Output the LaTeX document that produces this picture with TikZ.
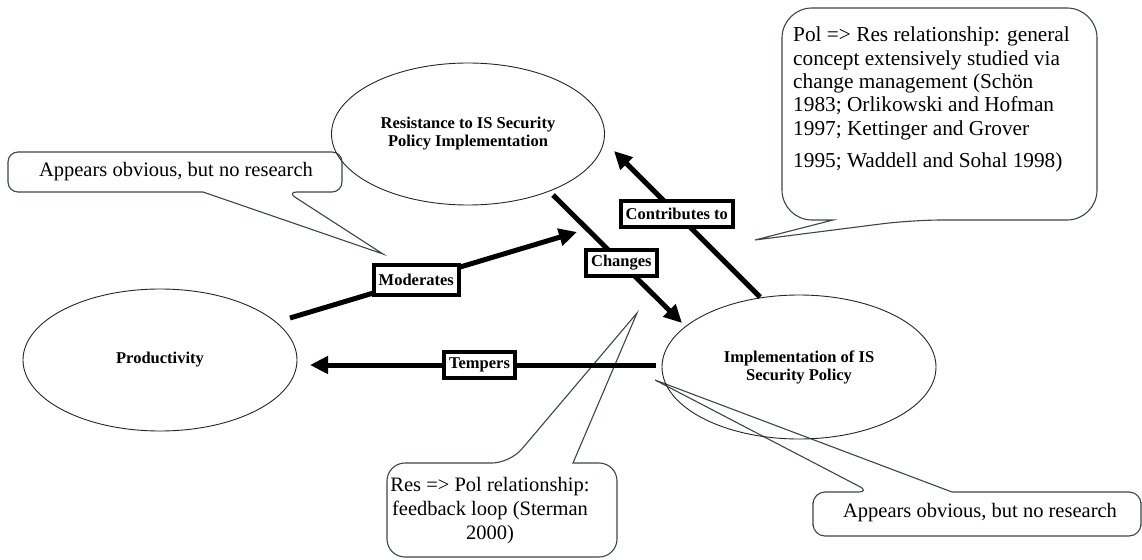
\documentclass[tikz,border=0pt]{standalone}
\usepackage{fontspec}
\setmainfont{Liberation Serif}
\usetikzlibrary{shapes.geometric,arrows.meta}
\definecolor{calloutgrey}{HTML}{3C4646}

\begin{document}
\begin{tikzpicture}[x=1pt,y=-1pt,
  concept/.style={ellipse,draw=black!85,line width=0.9pt,inner sep=0pt,align=center,
    font=\fontsize{16.5}{18}\selectfont\bfseries},
  link/.style={line width=5pt,-{Triangle[length=18pt,width=17pt]}},
  linklabel/.style={draw=black,fill=white,line width=4pt,inner xsep=5pt,inner ysep=2pt,
    minimum height=26pt,font=\fontsize{16.5}{18}\selectfont\bfseries},
  callout/.style={draw=calloutgrey,line width=1.1pt},
  note/.style={font=\fontsize{20.5}{23.5}\selectfont,inner sep=0pt}
]
\useasboundingbox[fill=white] (0,0) rectangle (1142,559);

% callout tips
\coordinate (tipTL) at (383,254);
\coordinate (tipTR) at (755,240);
\coordinate (tipBM) at (637,313);
\coordinate (tipBR) at (655,380);

% callout outlines (box with wedge pointer)
\draw[callout] (8,172) [rounded corners=10pt] |- (342,152) |- (287,192)
  [sharp corners] -- (tipTL) -- (203,192) [rounded corners=10pt] -| (8,172) -- cycle;
\draw[callout] (782,110) [rounded corners=30pt] |- (1097,8) |- (912,220)
  [sharp corners] -- (tipTR) -- (833,220) [rounded corners=30pt] -| (782,110) -- cycle;
\draw[callout] (387,510) [rounded corners=18pt] |- (510,463)
  [sharp corners] -- (tipBM) -- (573,463) [rounded corners=18pt] -| (617,510) |- (387,557) -- cycle;
\draw[callout] (813,514) [rounded corners=12pt] |- (870,492)
  [sharp corners] -- (tipBR) -- (952,492) [rounded corners=12pt] -| (1141,514) |- (813,536) -- cycle;

% callout texts
\node[note] (noteTL) at (176,172) {Appears obvious, but no research};
\node[note,align=left,anchor=north west,font=\fontsize{21.3}{23.3}\selectfont] (noteTR) at (793,27)
  {Pol => Res relationship: general\\concept extensively studied via\\change management (Schön\\1983; Orlikowski and Hofman\\1997; Kettinger and Grover\\[9.5pt]1995; Waddell and Sohal 1998)};
\node[note,align=center,font=\fontsize{20.5}{24}\selectfont] (noteBM) at (490,511)
  {Res => Pol relationship:\\feedback loop (Sterman\\2000)};
\node[note] (noteBR) at (980,513) {Appears obvious, but no research};

% concepts
\node[concept,minimum width=273pt,minimum height=142pt] (res) at (468,134)
  {Resistance to IS Security\\Policy Implementation};
\node[concept,minimum width=274pt,minimum height=142pt] (prod) at (160,360)
  {Productivity};
\node[concept,minimum width=274pt,minimum height=144pt] (impl) at (799,367)
  {Implementation of IS\\Security Policy};

% connector end points
\coordinate (modS) at (290,318);
\coordinate (modE) at (577,232);
\coordinate (chgS) at (553,195);
\coordinate (chgE) at (682,323);
\coordinate (conS) at (760,297);
\coordinate (conE) at (614,151);
\coordinate (temS) at (656,365);
\coordinate (temE) at (310,365);

% influences
\draw[link] (modS) -- (modE) node[linklabel,pos=0.44,minimum height=30pt] (lblMod) {Moderates};
\draw[link] (chgS) -- (chgE) node[linklabel,pos=0.53] (lblChg) {Changes};
\draw[link] (conS) -- (conE) node[linklabel,pos=0.57] (lblCon) {Contributes to};
\draw[link] (temS) -- (temE) node[linklabel,pos=0.51] (lblTem) {Tempers};
\end{tikzpicture}
\end{document}
